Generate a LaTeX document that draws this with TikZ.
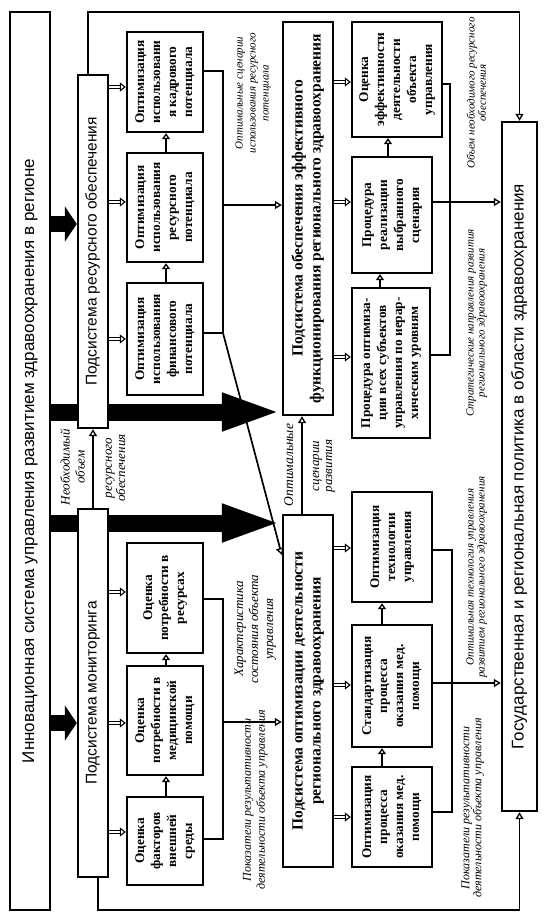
\documentclass[tikz,border=0pt]{standalone}
\usepackage{fontspec}
\setmainfont{Liberation Serif}
\newfontfamily\sansf{Liberation Sans}
\usetikzlibrary{arrows.meta,backgrounds}
\newcommand\rt[2]{\rotatebox{90}{#1\begin{tabular}{@{}c@{}}#2\end{tabular}}}
\newcommand\SB{\sansf\fontsize{15.5}{18}\selectfont}
\newcommand\SO{\sansf\fontsize{17}{20}\selectfont}
\newcommand\MB{\bfseries\fontsize{15.5}{18}\selectfont}
\newcommand\CB{\bfseries\fontsize{13.3}{16}\selectfont}
\newcommand\LI[2]{\itshape\fontsize{#1}{#2}\selectfont}
\begin{document}
\begin{tikzpicture}[x=1pt,y=-1pt,
  bx/.style={draw, line width=2.4pt, fill=white, inner sep=0pt},
  conn/.style={line width=1.7pt},
  arr/.style={conn, -{Triangle[open,length=7pt,width=8pt,line width=1.3pt]}},
  feed/.style={double, double distance=1.4pt, line width=1pt, -{Triangle[open,length=6pt,width=9pt,line width=1.1pt]}},
  upar/.style={line width=2.8pt, -{Triangle[open,length=6pt,width=8pt,line width=1.3pt]}},
  bigar/.style={line width=17pt, -{Triangle[length=60pt,width=34pt]}},
  smallar/.style={line width=16pt, -{Triangle[length=12pt,width=35pt]}},
  lbl/.style={inner sep=0pt}
]
\useasboundingbox (0,0) rectangle (551,923);

% main boxes
\node[bx, minimum width=40pt, minimum height=898pt] (outer) at (30,461) {\rt{\SO}{Инновационная система управления развитием здравоохранения в регионе}};
\node[bx, minimum width=30pt, minimum height=353pt] (res) at (93,251.5) {\rt{\SB}{Подсистема ресурсного обеспечения}};
\node[bx, minimum width=30pt, minimum height=368pt] (mon) at (93,693) {\rt{\SB}{Подсистема мониторинга}};
\node[bx, minimum width=50pt, minimum height=393pt] (eff) at (308,218.5) {\rt{\MB}{Подсистема обеспечения эффективного\\функционирования регионального здравоохранения}};
\node[bx, minimum width=50pt, minimum height=352pt] (opt) at (308,691) {\rt{\MB}{Подсистема оптимизации деятельности\\регионального здравоохранения}};
\node[bx, minimum width=35pt, minimum height=689pt] (gos) at (519.5,466.5) {\rt{\SO}{Государственная и региональная политика в области здравоохранения}};

% resource children
\node[bx, minimum width=76pt, minimum height=100pt] (kadr) at (165,82) {\rt{\CB}{Оптимизация\\использовани\\я кадрового\\потенциала}};
\node[bx, minimum width=76pt, minimum height=109pt] (resp) at (165,207.5) {\rt{\CB}{Оптимизация\\использования\\ресурсного\\потенциала}};
\node[bx, minimum width=76pt, minimum height=112pt] (fin) at (165,339) {\rt{\CB}{Оптимизация\\использования\\финансового\\потенциала}};
% monitoring children
\node[bx, minimum width=76pt, minimum height=110pt] (rneed) at (165,598) {\rt{\CB}{Оценка\\потребности в\\ресурсах}};
\node[bx, minimum width=76pt, minimum height=109pt] (mneed) at (165,720.5) {\rt{\CB}{Оценка\\потребности в\\медицинской\\помощи}};
\node[bx, minimum width=76pt, minimum height=88pt] (ext) at (165,841) {\rt{\CB}{Оценка\\факторов\\внешней\\среды}};
% effective functioning children
\node[bx, minimum width=90pt, minimum height=115pt] (ocen) at (397,79.5) {\rt{\CB}{Оценка\\эффективности\\деятельности\\объекта\\управления}};
\node[bx, minimum width=80pt, minimum height=116pt] (real) at (392,215) {\rt{\CB}{Процедура\\реализации\\выбранного\\сценария}};
\node[bx, minimum width=78pt, minimum height=150pt] (popt) at (391,363) {\rt{\CB}{Процедура оптимиза-\\ции всех субъектов\\управления по иерар-\\хическим уровням}};
% optimization children
\node[bx, minimum width=80pt, minimum height=110pt] (tech) at (392,547) {\rt{\CB}{Оптимизация\\технологии\\управления}};
\node[bx, minimum width=80pt, minimum height=122pt] (stand) at (392,686) {\rt{\CB}{Стандартизация\\процесса\\оказания мед.\\помощи}};
\node[bx, minimum width=80pt, minimum height=100pt] (pmed) at (392,817) {\rt{\CB}{Оптимизация\\процесса\\оказания мед.\\помощи}};

% big arrows (behind)
\begin{pgfonlayer}{background}
\draw[bigar] (outer.east |- 0,412) -- (eff.west |- 0,412);
\draw[bigar] (outer.east |- 0,523) -- (opt.west |- 0,523);
\draw[smallar] (outer.east |- 0,224) -- (res.west |- 0,224);
\draw[smallar] (outer.east |- 0,723) -- (mon.west |- 0,723);
\end{pgfonlayer}

% feed arrows
\draw[feed] (res.east |- 0,87) -- (kadr.west |- 0,87);
\draw[feed] (res.east |- 0,202) -- (resp.west |- 0,202);
\draw[feed] (res.east |- 0,339) -- (fin.west |- 0,339);
\draw[feed] (mon.east |- 0,592) -- (rneed.west |- 0,592);
\draw[feed] (mon.east |- 0,723) -- (mneed.west |- 0,723);
\draw[feed] (mon.east |- 0,832) -- (ext.west |- 0,832);
\draw[feed] (eff.east |- 0,82) -- (ocen.west |- 0,82);
\draw[feed] (eff.east |- 0,202) -- (real.west |- 0,202);
\draw[feed] (eff.east |- 0,357) -- (popt.west |- 0,357);
\draw[feed] (opt.east |- 0,548) -- (tech.west |- 0,548);
\draw[feed] (opt.east |- 0,685) -- (stand.west |- 0,685);
\draw[feed] (opt.east |- 0,817) -- (pmed.west |- 0,817);

% vertical arrows between children
\draw[upar] (fin.north -| 166,0) -- (resp.south -| 166,0);
\draw[upar] (resp.north -| 166,0) -- (kadr.south -| 166,0);
\draw[upar] (ext.north -| 166,0) -- (mneed.south -| 166,0);
\draw[upar] (mneed.north -| 166,0) -- (rneed.south -| 166,0);
\draw[upar] (popt.north -| 380,0) -- (real.south -| 380,0);
\draw[upar] (real.north -| 388,0) -- (ocen.south -| 388,0);
\draw[upar] (pmed.north -| 382,0) -- (stand.south -| 382,0);
\draw[upar] (stand.north -| 382,0) -- (tech.south -| 382,0);

% bus coordinates
\coordinate (rb1) at (223,71);
\coordinate (rb2) at (223,205);
\coordinate (rb3) at (223,333);
\coordinate (mb1) at (223,599);
\coordinate (mb2) at (223,722);
\coordinate (mb3) at (223,839);
\coordinate (eb1) at (450,84);
\coordinate (eb3) at (450,355);
\coordinate (ob1) at (452,550);
\coordinate (ob3) at (452,812);

\draw[conn] (kadr.east |- rb1) -- (rb1) -- (rb3) -- (fin.east |- rb3);
\draw[arr] (rb2) -- (eff.west |- rb2);
\draw[arr] (rb3) -- (opt.west |- 0,555);
\draw[conn] (rneed.east |- mb1) -- (mb1) -- (mb3) -- (ext.east |- mb3);
\draw[arr] (mb2) -- (opt.west |- mb2);
\draw[conn] (ocen.east |- eb1) -- (eb1) -- (eb3) -- (popt.east |- eb3);
\draw[arr] (real.east |- 0,202) -- (gos.west |- 0,202);
\draw[conn] (tech.east |- ob1) -- (ob1) -- (ob3) -- (pmed.east |- ob3);
\draw[arr] (stand.east |- 0,683) -- (gos.west |- 0,683);

% subsystem links
\draw[arr] (mon.north) -- (res.south);
\draw[arr] (opt.north -| 302,0) -- (eff.south -| 302,0);

% feedback loops
\coordinate (t1) at (88,12);
\coordinate (t2) at (gos.north |- t1);
\draw[arr] (res.north -| t1) -- (t1) -- (t2) -- (gos.north);
\coordinate (f1) at (98,910);
\coordinate (f2) at (gos.south |- f1);
\draw[arr] (mon.south -| f1) -- (f1) -- (f2) -- (gos.south);

% labels
\node[lbl] (l1) at (253,93) {\rt{\LI{11}{13}}{Оптимальные сценарии\\использования ресурсного\\потенциала}};
\node[lbl] (l2) at (74,467) {\rt{\LI{13}{15}}{Необходимый\\объем}};
\node[lbl] (l3) at (116,468) {\rt{\LI{13}{13}}{ресурсного\\обеспечения}};
\node[lbl] (l4) at (290,465) {\rt{\LI{13.5}{15}}{Оптимальные}};
\node[lbl] (l5) at (323,466) {\rt{\LI{13}{13}}{сценарии\\развития}};
\node[lbl] (l6) at (255,629) {\rt{\LI{13}{15}}{Характеристика\\состояния объекта\\управления}};
\node[lbl] (l7) at (255,800) {\rt{\LI{12}{14}}{Показатели результативности\\деятельности объекта управления}};
\node[lbl] (l8) at (477,577) {\rt{\LI{11}{11}}{Оптимальная технология управления\\развитием регионального здравоохранения}};
\node[lbl] (l9) at (473,808) {\rt{\LI{12}{11.5}}{Показатели результативности\\деятельности объекта управления}};
\node[lbl] (l10) at (477,323) {\rt{\LI{11}{11}}{Стратегические направления развития\\регионального здравоохранения}};
\node[lbl] (l11) at (478,93) {\rt{\LI{11}{11}}{Объем необходимого ресурсного\\обеспечения}};
\end{tikzpicture}
\end{document}
